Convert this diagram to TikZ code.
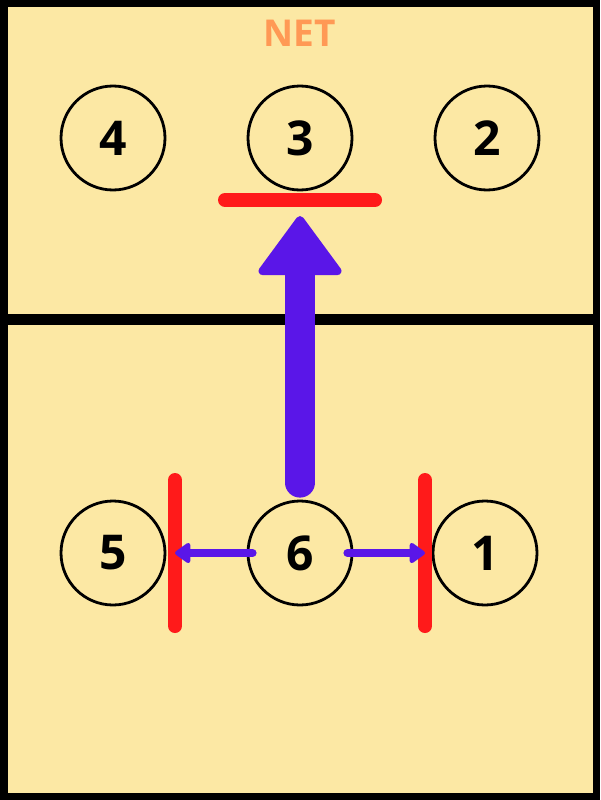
\documentclass[tikz,border=0pt]{standalone}
\usepackage{fontspec}
\setmainfont{Open Sans}
\usetikzlibrary{arrows.meta}
\definecolor{court}{HTML}{FCE8A4}
\definecolor{netorange}{HTML}{FF9955}
\definecolor{blockred}{HTML}{FF1A1A}
\definecolor{movepurple}{HTML}{5A16E8}
\tikzset{
  player/.style={circle, draw=black, line width=2.8pt, minimum size=104pt, inner sep=0pt,
    font=\fontsize{48}{48}\selectfont\bfseries},
  redbar/.style={draw=blockred, line width=14pt, line cap=round},
  smallmove/.style={draw=movepurple, line width=8pt, line cap=round,
    -{Triangle[length=17pt,width=23pt,round]}},
  bigshaft/.style={draw=movepurple, line width=30pt, line cap=round},
  bighead/.style={draw=movepurple, fill=movepurple, line width=8pt, line join=round},
}
\begin{document}
\begin{tikzpicture}[x=1pt,y=-1pt]
\useasboundingbox (0,0) rectangle (600,800);
\fill[court] (0,0) rectangle (600,800);
\draw[line width=7.5pt] (3.75,3.75) rectangle (596.25,796.25);
\draw[line width=11.5pt] (0,319.5) -- (600,319.5);
\node[text=netorange, font=\fontsize{37}{37}\selectfont\bfseries, inner sep=0pt] (net) at (300,33.5) {NET};
% players
\node[player] (p4) at (113,138) {4};
\node[player] (p3) at (300,138) {3};
\node[player] (p2) at (487,138) {2};
\node[player] (p5) at (113,553) {5};
\node[player] (p6) at (300,553) {6};
\node[player] (p1) at (485,553) {1};
% red blocking bars
\coordinate (topbarL) at (225,200);
\coordinate (topbarR) at (375,200);
\coordinate (leftbarT) at (175,480);
\coordinate (leftbarB) at (175,626);
\coordinate (rightbarT) at (425,480);
\coordinate (rightbarB) at (425,626);
\coordinate (leftstop) at (175,553);
\coordinate (rightstop) at (425,553);
\draw[redbar] (topbarL) -- (topbarR);
\draw[redbar] (leftbarT) -- (leftbarB);
\draw[redbar] (rightbarT) -- (rightbarB);
% big arrow
\coordinate (shaftbase) at ([yshift=17pt]p6.north);
\coordinate (headbase) at (300,268);
\draw[bigshaft] (shaftbase) -- (headbase);
\draw[bighead] (300,220) -- (262.5,271) -- (337.5,271) -- cycle;
% side moves
\draw[smallmove] ([xshift=6pt]p6.west) -- (leftstop);
\draw[smallmove] ([xshift=-6pt]p6.east) -- (rightstop);
\end{tikzpicture}
\end{document}
